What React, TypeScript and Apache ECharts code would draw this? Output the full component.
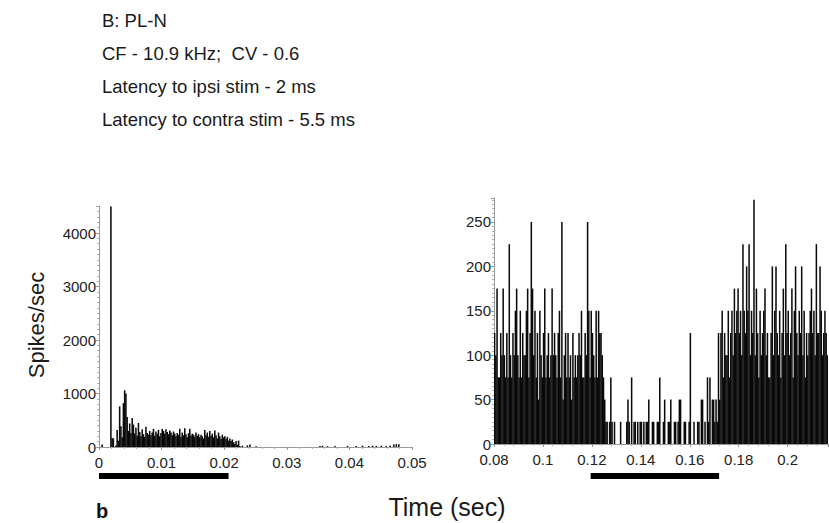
import React, { useEffect, useRef } from "react";
import * as echarts from "echarts";

// ---------- text ----------
const headerLines = [
  "B: PL-N",
  "CF - 10.9 kHz;  CV - 0.6",
  "Latency to ipsi stim - 2 ms",
  "Latency to contra stim - 5.5 ms",
];
const yAxisTitle = "Spikes/sec";
const xAxisTitle = "Time (sec)";
const panelLabel = "b";

// ---------- left panel (ipsi) : bins of 0.2 ms starting at 0 ----------
const leftBinStart = 0;
const leftBinWidth = 0.0002;
const leftRates = [
  0, 0, 45, 0, 0, 0, 0, 0, 0, 4500,
  170, 160, 0, 30, 320, 120, 760, 390, 180, 820,
  1060, 1000, 560, 300, 440, 260, 540, 420, 250, 360,
  210, 450, 280, 200, 330, 240, 190, 380, 260, 230,
  300, 220, 270, 340, 210, 290, 250, 320, 200, 260,
  340, 300, 250, 330, 280, 240, 310, 270, 220, 290,
  250, 200, 260, 230, 340, 190, 270, 220, 350, 240,
  180, 260, 340, 210, 250, 230, 190, 270, 210, 240,
  180, 230, 200, 160, 320, 220, 270, 190, 300, 210,
  250, 180, 310, 220, 160, 270, 200, 150, 230, 180,
  200, 150, 190, 120, 160, 110, 140, 90, 60, 110,
  40, 120, 20, 0, 25, 0,
];
// sparse late bins (bin start times) and their rates
const leftTailTimes = [
  0.0236, 0.024, 0.025, 0.0352, 0.0356, 0.0364, 0.0376, 0.0396, 0.041, 0.042,
  0.043, 0.0436, 0.0442, 0.045, 0.0458, 0.0464, 0.047, 0.0474, 0.0478,
];
const leftTailRates = [
  30, 45, 15, 20, 25, 15, 20, 20, 20, 25,
  20, 25, 20, 25, 20, 30, 45, 55, 50,
];
const leftStimulus = [0, 0.0207];

// ---------- right panel (contra) : bins of 0.5 ms starting at 0.08 ----------
const rightBinStart = 0.08;
const rightBinWidth = 0.0005;
const rightRates = [
  125, 100, 175, 75, 75, 125, 100, 175, 100, 75,
  125, 75, 225, 100, 75, 125, 100, 150, 175, 100,
  75, 150, 75, 125, 100, 100, 150, 175, 75, 125,
  250, 175, 100, 150, 75, 125, 50, 150, 100, 75,
  125, 175, 75, 100, 125, 75, 100, 175, 100, 125,
  100, 75, 125, 150, 75, 250, 50, 100, 125, 75,
  125, 75, 100, 50, 125, 75, 100, 75, 100, 125,
  100, 150, 75, 75, 125, 100, 250, 150, 75, 150,
  125, 100, 75, 150, 75, 150, 125, 125, 100, 75,
  50, 25, 25, 0, 25, 75, 25, 0, 25, 0,
  0, 0, 0, 25, 0, 0, 0, 0, 25, 50,
  25, 0, 75, 0, 25, 25, 0, 25, 0, 25,
  25, 0, 25, 0, 25, 25, 50, 0, 0, 25,
  25, 0, 0, 25, 25, 75, 0, 0, 25, 50,
  0, 0, 25, 25, 50, 0, 0, 25, 25, 0,
  25, 50, 50, 0, 0, 25, 25, 0, 0, 25,
  125, 0, 0, 25, 0, 0, 25, 25, 0, 50,
  50, 0, 25, 0, 75, 25, 75, 0, 50, 50,
  25, 50, 25, 125, 50, 125, 150, 75, 125, 100,
  100, 150, 75, 125, 150, 100, 175, 125, 150, 175,
  125, 150, 100, 225, 150, 125, 200, 150, 225, 100,
  150, 125, 275, 100, 175, 125, 75, 150, 100, 125,
  150, 175, 100, 125, 75, 75, 125, 200, 100, 150,
  200, 125, 100, 150, 75, 125, 175, 100, 225, 125,
  150, 100, 125, 175, 75, 150, 200, 125, 100, 150,
  125, 200, 100, 150, 75, 125, 100, 125, 150, 175,
  125, 150, 100, 225, 125, 125, 200, 150, 100, 125,
  150, 125, 100,
];
const rightStimulus = [0.1195, 0.172];

// ---------- axes ----------
const leftX = { min: 0, max: 0.05, interval: 0.01 };
const leftY = { min: 0, max: 4500, interval: 1000 };
const rightX = { min: 0.08, max: 0.2165, interval: 0.02 };
const rightY = { min: 0, max: 277, interval: 50 };

const FONT = "'Liberation Sans', Arial, Helvetica, sans-serif";

// [binStart, binEnd, rate]
const leftData = leftRates
  .map((v, i) => [leftBinStart + i * leftBinWidth, leftBinStart + (i + 1) * leftBinWidth, v])
  .concat(leftTailTimes.map((t, i) => [t, t + leftBinWidth, leftTailRates[i]]))
  .filter((d) => d[2] > 0);
const rightData = rightRates
  .map((v, i) => [rightBinStart + i * rightBinWidth, rightBinStart + (i + 1) * rightBinWidth, v])
  .filter((d) => d[2] > 0);

function isTick(v: number, r: { min: number; interval: number }) {
  const k = Math.round((v - r.min) / r.interval);
  return Math.abs(r.min + k * r.interval - v) < 1e-9;
}

function xAxisCfg(gridIndex: number, r: { min: number; max: number; interval: number }) {
  return {
    type: "value",
    gridIndex,
    min: r.min,
    max: r.max,
    interval: r.interval,
    splitLine: { show: false },
    axisLine: { show: true, onZero: false, lineStyle: { color: "#9a9a9a", width: 1 } },
    axisTick: { show: true, length: 3, lineStyle: { color: "#9a9a9a" } },
    minorTick: { show: true, splitNumber: 5, length: 2, lineStyle: { color: "#b0b0b0" } },
    axisLabel: {
      color: "#222",
      fontSize: 15,
      lineHeight: 15,
      fontFamily: FONT,
      margin: 8,
      formatter: (v: number) => (isTick(v, r) ? String(Math.round(v * 1000) / 1000) : ""),
    },
  };
}

function yAxisCfg(gridIndex: number, r: { min: number; max: number; interval: number }) {
  return {
    type: "value",
    gridIndex,
    min: r.min,
    max: r.max,
    interval: r.interval,
    splitLine: { show: false },
    axisLine: { show: true, lineStyle: { color: "#9a9a9a", width: 1 } },
    axisTick: { show: true, length: 3, lineStyle: { color: "#9a9a9a" } },
    minorTick: { show: true, splitNumber: 10, length: 2, lineStyle: { color: "#b0b0b0" } },
    axisLabel: {
      color: "#222",
      fontSize: 15,
      lineHeight: 13,
      fontFamily: FONT,
      margin: 3,
      formatter: (v: number) => (isTick(v, r) ? String(v) : ""),
    },
  };
}

function histSeries(axisIndex: number, data: number[][]) {
  return {
    type: "custom",
    xAxisIndex: axisIndex,
    yAxisIndex: axisIndex,
    silent: true,
    clip: true,
    encode: { x: [0, 1], y: 2 },
    data,
    renderItem: (_params: any, api: any) => {
      const p0 = api.coord([api.value(0), 0]);
      const p1 = api.coord([api.value(1), api.value(2)]);
      return {
        type: "rect",
        shape: { x: p0[0] - 0.15, y: p1[1], width: p1[0] - p0[0] + 0.3, height: p0[1] - p1[1] },
        style: { fill: "#0a0a0a" },
      };
    },
  };
}

export default function App() {
  const ref = useRef<HTMLDivElement>(null);
  useEffect(() => {
    if (!ref.current) return;
    const chart = echarts.init(ref.current, null, { renderer: "svg" });
    const texts: any[] = headerLines.map((line, i) => ({
      type: "text",
      left: 102,
      top: 11 + i * 33,
      style: { text: line, font: `18.5px ${FONT}`, fill: "#1a1a1a" },
    }));
    texts.push({
      type: "text",
      x: 36,
      y: 325,
      rotation: Math.PI / 2,
      style: {
        text: yAxisTitle,
        font: `22px ${FONT}`,
        fill: "#1a1a1a",
        align: "center",
        verticalAlign: "middle",
      },
    });
    texts.push({
      type: "text",
      x: 447,
      y: 507,
      style: {
        text: xAxisTitle,
        font: `25px ${FONT}`,
        fill: "#1a1a1a",
        align: "center",
        verticalAlign: "middle",
      },
    });
    texts.push({
      type: "text",
      x: 102,
      y: 511,
      style: {
        text: panelLabel,
        font: `bold 20px ${FONT}`,
        fill: "#111",
        align: "center",
        verticalAlign: "middle",
      },
    });

    const option: any = {
      animation: false,
      backgroundColor: "#ffffff",
      grid: [
        { left: 99, top: 206.25, width: 313, height: 240.75, containLabel: false, outerBoundsMode: "none" },
        { left: 494, top: 198, width: 334, height: 246, containLabel: false, outerBoundsMode: "none" },
      ],
      xAxis: [xAxisCfg(0, leftX), xAxisCfg(1, rightX)],
      yAxis: [yAxisCfg(0, leftY), yAxisCfg(1, rightY)],
      series: [histSeries(0, leftData), histSeries(1, rightData)],
      graphic: texts,
    };
    chart.setOption(option);

    const stim = (axis: number, range: number[]) => {
      const x0 = chart.convertToPixel({ xAxisIndex: axis } as any, range[0]) as number;
      const x1 = chart.convertToPixel({ xAxisIndex: axis } as any, range[1]) as number;
      return {
        type: "rect",
        shape: { x: x0, y: 473, width: x1 - x0, height: 6 },
        style: { fill: "#000" },
      };
    };
    chart.setOption({ graphic: texts.concat([stim(0, leftStimulus), stim(1, rightStimulus)]) });

    return () => chart.dispose();
  }, []);
  return (
    <div
      ref={ref}
      style={{ position: "fixed", left: 0, top: 0, width: 829, height: 523, background: "#fff" }}
    />
  );
}
